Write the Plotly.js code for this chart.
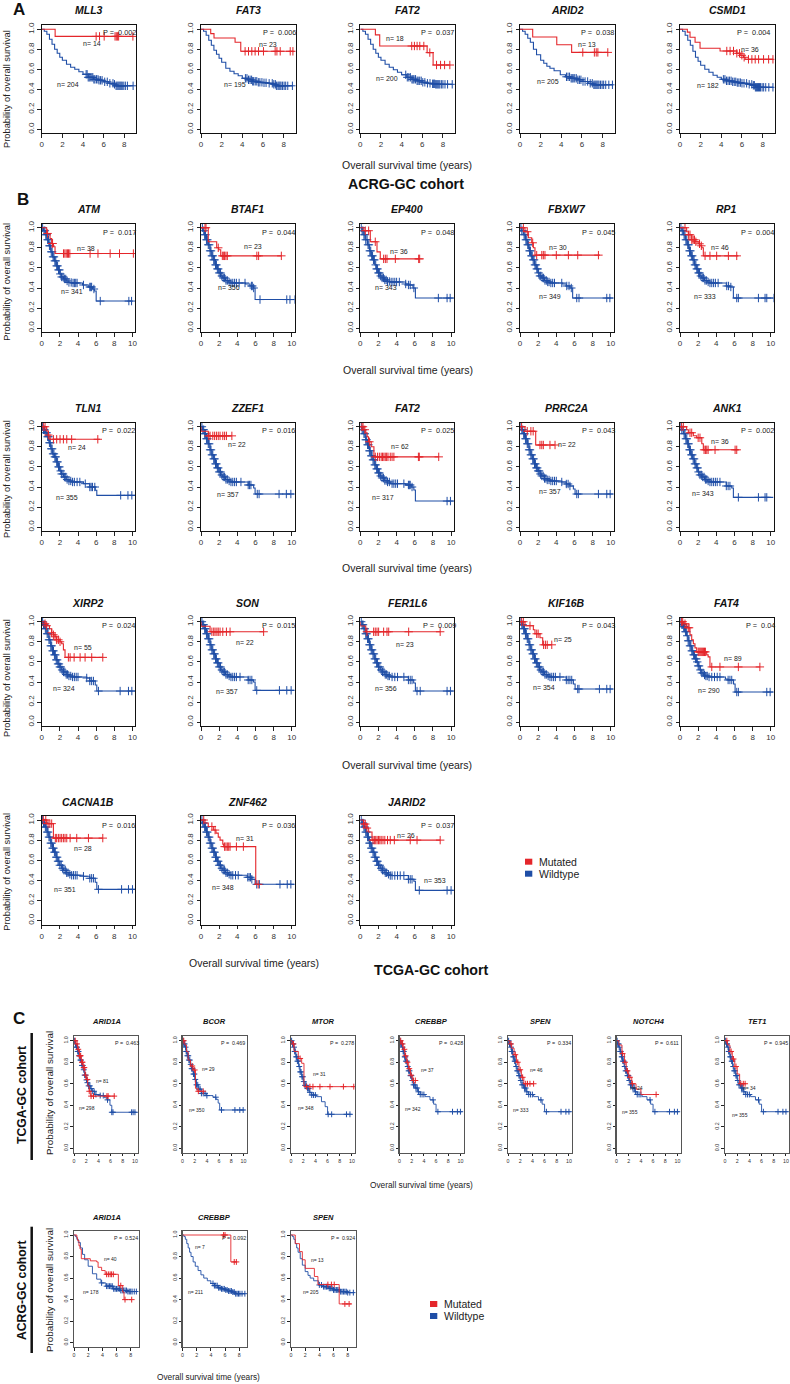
<!DOCTYPE html>
<html><head><meta charset="utf-8">
<script src="https://cdn.plot.ly/plotly-3.0.1.min.js"></script>
<style>html,body{margin:0;padding:0;background:#fff}#chart{width:790px;height:1384px}</style>
</head><body><div id="chart"></div>
<script>
// ---------------- DATA ----------------
// Panel A (ACRG-GC cohort)
const A_genes = ['MLL3','FAT3','FAT2','ARID2','CSMD1'];
const A_pvals = ['0.002','0.006','0.037','0.038','0.004'];
const A_nMut = [14,23,18,13,36];
const A_nWt = [204,195,200,205,182];

const A1_mt_t = [0,1.3,8.85];
const A1_mt_s = [1,0.929,0.929];
const A1_mt_c = [5.27,5.6,6.05,7.1,7.22,7.33,7.45,8.83];
const A1_wt_t = [0,0.25,0.5,0.75,1.0,1.25,1.5,1.75,2.0,2.4,2.8,3.2,3.6,4.0,4.5,5.0,5.5,6.0,6.5,7.0,7.2,8.85];
const A1_wt_s = [1,0.98,0.95,0.9,0.85,0.8,0.76,0.72,0.69,0.65,0.62,0.6,0.575,0.55,0.52,0.5,0.49,0.475,0.46,0.45,0.435,0.435];
const A1_wt_c = [4.3,4.4,4.5,4.6,4.7,4.85,4.95,5.05,5.15,5.3,5.45,5.55,5.7,5.85,6.1,6.35,6.6,6.9,7.05,7.2,7.3,7.4,7.5,7.6,7.7,7.8,7.95,8.1,8.3,8.85];

const A2_mt_t = [0,0.94,1.26,3.3,3.85,8.9];
const A2_mt_s = [1,0.957,0.913,0.87,0.78,0.78];
const A2_mt_c = [4.27,4.6,4.92,5.24,5.57,6.05,7.18,7.35,7.67,8.64,8.9];
const A2_wt_t = [0,0.25,0.5,0.75,1.0,1.25,1.5,1.75,2.0,2.4,2.8,3.2,3.6,4.0,4.5,5.0,5.5,6.0,6.5,7.0,7.3,8.85];
const A2_wt_s = [1,0.98,0.94,0.89,0.84,0.79,0.75,0.71,0.67,0.61,0.58,0.555,0.535,0.51,0.495,0.48,0.47,0.465,0.46,0.45,0.435,0.435];
const A2_wt_c = [4.3,4.45,4.6,4.75,4.9,5.0,5.1,5.25,5.4,5.55,5.7,5.9,6.1,6.3,6.6,6.9,7.05,7.2,7.3,7.45,7.55,7.65,7.75,7.9,8.05,8.2,8.4,8.85];

const A3_mt_t = [0,1.46,1.88,6.47,7.05,8.7];
const A3_mt_s = [1,0.944,0.833,0.767,0.643,0.643];
const A3_mt_c = [4.98,5.24,5.5,5.76,6.15,6.73,7.38,7.77,8.16,8.67];
const A3_wt_t = [0,0.25,0.5,0.75,1.0,1.25,1.5,1.75,2.0,2.4,2.8,3.2,3.6,4.0,4.5,5.0,5.5,6.0,6.5,7.0,7.3,8.9];
const A3_wt_s = [1,0.98,0.95,0.9,0.85,0.8,0.76,0.72,0.69,0.65,0.62,0.595,0.57,0.545,0.52,0.5,0.485,0.47,0.46,0.455,0.45,0.45];
const A3_wt_c = [4.4,4.55,4.7,4.85,5.0,5.1,5.2,5.35,5.5,5.6,5.75,5.9,6.05,6.25,6.5,6.75,7.0,7.1,7.2,7.3,7.4,7.5,7.6,7.7,7.85,8.0,8.2,8.45,8.9];

const A4_mt_t = [0,1.23,3.56,5.0,8.5];
const A4_mt_s = [1,0.923,0.846,0.769,0.769];
const A4_mt_c = [6.08,7.2,7.38,7.54,8.5];
const A4_wt_t = [0,0.25,0.5,0.75,1.0,1.3,1.6,2.0,2.3,2.6,2.9,3.3,3.9,4.4,4.9,5.5,6.1,6.6,7.1,8.95];
const A4_wt_s = [1,0.98,0.95,0.91,0.87,0.8,0.745,0.69,0.66,0.63,0.61,0.585,0.545,0.525,0.51,0.495,0.478,0.46,0.445,0.445];
const A4_wt_c = [4.5,4.65,4.8,4.95,5.05,5.15,5.3,5.45,5.6,5.75,5.9,6.1,6.3,6.55,6.8,7.0,7.15,7.25,7.35,7.45,7.55,7.65,7.8,7.95,8.1,8.3,8.6,8.95];

const A5_mt_t = [0,0.71,0.97,1.46,1.94,3.88,5.5,5.83,6.15,6.3,9.0];
const A5_mt_s = [1,0.972,0.92,0.87,0.81,0.783,0.76,0.74,0.72,0.7,0.7];
const A5_mt_c = [4.53,4.85,5.18,5.5,5.76,5.99,6.21,6.63,6.96,7.28,7.61,8.09,8.58,9.0];
const A5_wt_t = [0,0.25,0.5,0.75,1.0,1.25,1.5,1.75,2.0,2.4,2.8,3.2,3.6,4.0,4.5,5.0,5.5,6.0,6.5,7.0,7.3,9.0];
const A5_wt_s = [1,0.98,0.94,0.89,0.84,0.78,0.72,0.68,0.64,0.6,0.57,0.54,0.52,0.5,0.485,0.475,0.467,0.46,0.45,0.44,0.42,0.42];
const A5_wt_c = [4.2,4.35,4.5,4.65,4.8,4.95,5.1,5.25,5.4,5.55,5.7,5.85,6.0,6.2,6.45,6.7,6.95,7.1,7.2,7.3,7.4,7.5,7.6,7.7,7.8,7.95,8.1,8.3,8.6,9.0];

// Panel B (TCGA-GC cohort)
const B_genes = ['ATM','BTAF1','EP400','FBXW7','RP1','TLN1','ZZEF1','FAT2','PRRC2A','ANK1','XIRP2','SON','FER1L6','KIF16B','FAT4','CACNA1B','ZNF462','JARID2'];
const B_pvals = ['0.017','0.044','0.048','0.045','0.004','0.022','0.016','0.025','0.043','0.002','0.024','0.015','0.009','0.043','0.04','0.016','0.036','0.037'];
const B_nMut = [38,23,36,30,46,24,22,62,22,36,55,22,23,25,89,28,31,26];
const B_nWt = [341,356,343,349,333,355,357,317,357,343,324,357,356,354,290,351,348,353];

const B1_mt_t = [0,0.55,0.92,1.1,1.29,1.47,10.1];
const B1_mt_s = [1,0.943,0.893,0.843,0.81,0.743,0.743];
const B1_mt_c = [0.65,1.15,1.2,2.4,2.55,2.7,2.85,2.95,3.1,5.33,6.2,7.54,8.57,10.1];
const B1_wt_t = [0,0.2,0.4,0.6,0.8,1.0,1.2,1.4,1.6,1.8,2.0,2.2,2.4,2.7,3.0,3.3,4.1,4.5,5.2,5.6,5.8,6.0,9.9];
const B1_wt_s = [1,0.97,0.93,0.88,0.82,0.76,0.71,0.67,0.62,0.58,0.54,0.51,0.49,0.47,0.455,0.45,0.45,0.43,0.41,0.39,0.37,0.27,0.27];
const B1_wt_c = [0.1,0.25,0.35,0.45,0.55,0.65,0.75,0.85,0.95,1.05,1.15,1.25,1.35,1.45,1.55,1.65,1.75,1.85,1.95,2.05,2.2,2.35,2.5,2.65,2.8,3.0,3.25,3.45,3.6,3.75,3.9,4.6,5.3,5.4,5.5,5.75,6.45,9.6,9.9];

const B2_mt_t = [0,0.8,1.73,1.95,2.17,8.85];
const B2_mt_s = [1,0.86,0.8,0.78,0.72,0.72];
const B2_mt_c = [0.44,0.55,1.9,2.35,2.5,2.6,2.75,2.9,6.15,6.35,8.85];
const B2_wt_t = [0,0.2,0.4,0.6,0.8,1.0,1.2,1.4,1.6,1.8,2.0,2.2,2.4,2.7,3.0,3.3,4.3,4.9,5.4,5.8,5.96,10.3];
const B2_wt_s = [1,0.97,0.93,0.88,0.83,0.77,0.72,0.68,0.63,0.59,0.55,0.52,0.5,0.475,0.46,0.45,0.45,0.44,0.42,0.4,0.285,0.285];
const B2_wt_c = [0.15,0.3,0.4,0.5,0.6,0.7,0.8,0.9,1.0,1.1,1.2,1.3,1.4,1.5,1.6,1.7,1.8,1.9,2.0,2.15,2.3,2.45,2.6,2.75,2.9,3.1,3.3,3.5,3.7,3.9,4.2,4.85,5.55,5.65,5.8,6.5,9.45,9.8,10.3];

const B3_mt_t = [0,0.4,1.1,1.84,2.2,6.54];
const B3_mt_s = [1,0.97,0.86,0.76,0.69,0.69];
const B3_mt_c = [0.55,0.92,1.65,2.57,2.76,2.94,3.86,6.43,6.54];
const B3_wt_t = [0,0.2,0.4,0.6,0.8,1.0,1.2,1.4,1.6,1.8,2.0,2.2,2.4,2.7,3.0,3.3,4.4,5.0,5.3,5.8,6.07,10.3];
const B3_wt_s = [1,0.97,0.93,0.88,0.83,0.77,0.72,0.68,0.63,0.59,0.55,0.52,0.5,0.48,0.465,0.46,0.46,0.44,0.43,0.4,0.3,0.3];
const B3_wt_c = [0.1,0.2,0.3,0.4,0.5,0.6,0.75,0.85,0.95,1.05,1.15,1.25,1.35,1.45,1.55,1.7,1.8,1.9,2.0,2.1,2.25,2.4,2.55,2.7,2.85,3.0,3.2,3.4,3.6,3.8,4.0,4.3,5.0,5.3,5.5,5.9,8.6,9.56,9.9];

const B4_mt_t = [0,0.55,0.92,1.29,1.47,1.65,8.8];
const B4_mt_s = [1,0.96,0.9,0.85,0.8,0.727,0.727];
const B4_mt_c = [0.37,0.8,1.4,1.84,2.4,2.57,2.75,4.0,5.33,6.36,8.64];
const B4_wt_t = [0,0.2,0.4,0.6,0.8,1.0,1.2,1.4,1.6,1.8,2.0,2.2,2.4,2.7,3.0,3.3,4.4,4.7,5.1,5.5,5.8,10.3];
const B4_wt_s = [1,0.97,0.93,0.88,0.83,0.77,0.72,0.68,0.63,0.59,0.55,0.52,0.5,0.475,0.46,0.45,0.45,0.44,0.42,0.4,0.3,0.3];
const B4_wt_c = [0.1,0.2,0.35,0.45,0.55,0.65,0.75,0.85,0.95,1.05,1.15,1.25,1.35,1.45,1.55,1.65,1.75,1.85,1.95,2.05,2.2,2.3,2.45,2.6,2.75,2.9,3.05,3.2,3.4,3.6,3.8,4.6,5.15,5.4,5.65,6.25,6.5,9.56,9.9];

const B5_mt_t = [0,0.73,0.92,1.29,1.65,2.0,2.2,2.4,2.57,6.43];
const B5_mt_s = [1,0.96,0.93,0.88,0.86,0.84,0.82,0.8,0.72,0.72];
const B5_mt_c = [0.55,0.95,1.1,1.3,1.45,1.6,1.75,2.15,2.35,2.76,3.3,4.04,5.33,6.25];
const B5_wt_t = [0,0.2,0.4,0.6,0.8,1.0,1.2,1.4,1.6,1.8,2.0,2.2,2.4,2.7,3.0,3.3,4.4,5.1,5.5,5.88,10.3];
const B5_wt_s = [1,0.97,0.93,0.88,0.83,0.77,0.72,0.68,0.63,0.59,0.55,0.52,0.5,0.475,0.46,0.45,0.45,0.42,0.41,0.3,0.3];
const B5_wt_c = [0.1,0.25,0.35,0.45,0.55,0.65,0.75,0.85,0.95,1.05,1.15,1.25,1.35,1.45,1.55,1.65,1.75,1.85,1.95,2.05,2.15,2.3,2.45,2.6,2.75,2.9,3.1,3.3,3.5,3.7,3.9,4.2,5.15,5.35,5.6,6.25,6.43,8.64,9.37,9.56,10.3];

const B6_mt_t = [0,0.55,0.73,0.92,6.43];
const B6_mt_s = [1,0.958,0.917,0.875,0.875];
const B6_mt_c = [0.18,0.37,0.73,1.29,1.65,2.02,2.39,2.76,3.3,6.18];
const B6_wt_t = [0,0.2,0.4,0.6,0.8,1.0,1.2,1.4,1.6,1.8,2.0,2.2,2.4,2.7,3.0,3.3,4.2,4.6,5.3,5.9,6.07,10.3];
const B6_wt_s = [1,0.97,0.94,0.9,0.84,0.78,0.73,0.7,0.65,0.6,0.56,0.53,0.5,0.475,0.46,0.45,0.45,0.433,0.4,0.367,0.317,0.317];
const B6_wt_c = [0.1,0.2,0.3,0.45,0.55,0.65,0.75,0.85,0.95,1.05,1.15,1.25,1.35,1.45,1.55,1.65,1.75,1.85,1.95,2.1,2.2,2.35,2.5,2.65,2.8,3.0,3.2,3.4,3.6,3.9,4.2,4.8,5.3,5.45,5.6,5.85,8.7,9.5,9.93];

const B7_mt_t = [0,0,0.8,3.4];
const B7_mt_s = [1,0.955,0.909,0.909];
const B7_mt_c = [0.85,1.0,1.3,1.5,1.7,1.9,2.1,2.4,2.6,2.8,3.4];
const B7_wt_t = [0,0.2,0.4,0.6,0.8,1.0,1.2,1.4,1.6,1.8,2.0,2.2,2.4,2.7,3.0,3.3,4.3,5.2,5.8,5.96,10.3];
const B7_wt_s = [1,0.97,0.93,0.88,0.83,0.77,0.72,0.68,0.63,0.59,0.55,0.52,0.5,0.475,0.46,0.45,0.45,0.42,0.39,0.33,0.33];
const B7_wt_c = [0.1,0.2,0.3,0.4,0.5,0.6,0.7,0.8,0.9,1.0,1.1,1.2,1.3,1.4,1.5,1.6,1.7,1.8,1.9,2.0,2.15,2.3,2.45,2.6,2.75,2.9,3.1,3.3,3.5,3.7,3.9,4.4,5.2,5.35,5.5,6.2,6.4,8.6,9.4,9.9];

const B8_mt_t = [0,0.4,0.6,0.75,0.9,1.2,1.5,8.64];
const B8_mt_s = [1,0.97,0.94,0.9,0.85,0.8,0.7,0.7];
const B8_mt_c = [0.18,0.3,0.5,1.0,1.65,1.9,2.1,2.3,2.45,2.6,2.75,2.9,3.05,3.3,3.5,3.7,6.4,6.5,8.64];
const B8_wt_t = [0,0.2,0.4,0.6,0.8,1.0,1.2,1.4,1.6,1.8,2.0,2.2,2.4,2.7,3.0,3.3,4.4,5.0,5.6,5.9,6.07,10.3];
const B8_wt_s = [1,0.97,0.93,0.87,0.82,0.76,0.71,0.67,0.62,0.58,0.54,0.51,0.49,0.465,0.45,0.433,0.433,0.42,0.4,0.37,0.26,0.26];
const B8_wt_c = [0.1,0.2,0.3,0.4,0.5,0.6,0.7,0.8,0.9,1.0,1.1,1.2,1.3,1.4,1.5,1.6,1.7,1.8,1.9,2.0,2.1,2.25,2.4,2.55,2.7,2.85,3.0,3.2,3.5,3.7,3.9,4.1,4.8,5.3,5.4,5.5,5.7,9.56,9.93];

const B9_mt_t = [0,0.55,1.73,3.86];
const B9_mt_s = [1,0.955,0.818,0.818];
const B9_mt_c = [0.18,0.8,1.2,1.45,2.2,2.4,2.57,3.3,3.86];
const B9_wt_t = [0,0.2,0.4,0.6,0.8,1.0,1.2,1.4,1.6,1.8,2.0,2.2,2.4,2.7,3.0,3.3,4.2,4.6,5.1,5.5,5.88,6.07,10.3];
const B9_wt_s = [1,0.97,0.93,0.88,0.83,0.77,0.72,0.68,0.63,0.59,0.56,0.53,0.51,0.485,0.47,0.46,0.46,0.45,0.43,0.41,0.38,0.33,0.33];
const B9_wt_c = [0.1,0.2,0.3,0.4,0.5,0.6,0.7,0.8,0.9,1.0,1.1,1.2,1.3,1.4,1.5,1.6,1.7,1.8,1.9,2.0,2.1,2.25,2.4,2.55,2.7,2.85,3.0,3.2,3.4,3.6,3.8,4.0,4.6,5.1,5.3,5.5,6.25,6.43,8.64,9.56,9.93];

const B10_mt_t = [0,0.73,0.92,1.47,1.84,2.4,2.57,6.43];
const B10_mt_s = [1,0.97,0.94,0.91,0.89,0.83,0.77,0.77];
const B10_mt_c = [0.18,0.37,1.1,1.29,2.0,2.2,2.65,2.8,2.95,3.1,3.86,6.07,6.25];
const B10_wt_t = [0,0.2,0.4,0.6,0.8,1.0,1.2,1.4,1.6,1.8,2.0,2.2,2.4,2.7,3.0,3.3,4.4,5.1,5.7,5.88,10.3];
const B10_wt_s = [1,0.97,0.93,0.88,0.83,0.77,0.72,0.68,0.63,0.59,0.55,0.52,0.5,0.475,0.46,0.45,0.45,0.41,0.39,0.297,0.297];
const B10_wt_c = [0.1,0.2,0.35,0.45,0.55,0.65,0.75,0.85,0.95,1.05,1.15,1.25,1.35,1.45,1.55,1.65,1.75,1.85,1.95,2.05,2.2,2.35,2.5,2.65,2.8,2.95,3.1,3.3,3.5,3.7,3.9,4.1,4.4,5.1,5.3,5.5,6.43,8.64,9.37,9.56];

const B11_mt_t = [0,0.37,0.55,0.85,1.1,1.29,1.47,1.65,2.02,2.2,2.39,2.57,6.73];
const B11_mt_s = [1,0.98,0.96,0.93,0.89,0.87,0.85,0.82,0.8,0.78,0.72,0.645,0.645];
const B11_mt_c = [0.37,0.55,1.1,1.29,1.47,1.65,1.84,2.02,2.94,3.13,3.57,4.23,4.78,5.51,6.73];
const B11_wt_t = [0,0.2,0.4,0.6,0.8,1.0,1.2,1.4,1.6,1.8,2.0,2.2,2.4,2.7,3.0,3.3,4.0,4.96,5.3,5.9,6.07,10.3];
const B11_wt_s = [1,0.97,0.93,0.88,0.82,0.76,0.71,0.67,0.62,0.58,0.55,0.52,0.5,0.475,0.46,0.45,0.45,0.44,0.41,0.37,0.31,0.31];
const B11_wt_c = [0.1,0.2,0.3,0.4,0.5,0.6,0.7,0.8,0.9,1.0,1.1,1.2,1.3,1.4,1.5,1.6,1.7,1.8,1.9,2.0,2.1,2.25,2.4,2.55,2.7,2.85,3.0,3.2,3.4,3.6,3.8,4.0,4.96,5.3,5.5,5.7,6.25,8.64,9.56,9.93];

const B12_mt_t = [0,0,1.0,6.9];
const B12_mt_s = [1,0.955,0.9,0.9];
const B12_mt_c = [1.2,1.4,1.55,1.75,1.9,2.1,2.4,2.8,3.2,6.9];
const B12_wt_t = [0,0.2,0.4,0.6,0.8,1.0,1.2,1.4,1.6,1.8,2.0,2.2,2.4,2.7,3.0,3.3,4.3,5.2,5.77,5.96,10.3];
const B12_wt_s = [1,0.97,0.93,0.88,0.83,0.77,0.72,0.68,0.63,0.59,0.55,0.52,0.5,0.475,0.46,0.45,0.45,0.42,0.4,0.317,0.317];
const B12_wt_c = [0.1,0.2,0.3,0.4,0.5,0.6,0.7,0.8,0.9,1.0,1.1,1.2,1.3,1.4,1.5,1.6,1.7,1.8,1.9,2.0,2.15,2.3,2.45,2.6,2.75,2.9,3.1,3.3,3.5,3.7,3.9,4.3,5.2,5.4,5.6,6.14,8.64,9.45,9.93];

const B13_mt_t = [0,0,0.6,8.8];
const B13_mt_s = [1,0.957,0.9,0.9];
const B13_mt_c = [0.73,1.47,1.65,1.84,2.02,2.57,2.94,3.13,5.33,8.8];
const B13_wt_t = [0,0.2,0.4,0.6,0.8,1.0,1.2,1.4,1.6,1.8,2.0,2.2,2.4,2.7,3.0,3.3,4.8,5.3,5.88,6.07,10.3];
const B13_wt_s = [1,0.97,0.93,0.88,0.83,0.77,0.72,0.68,0.63,0.59,0.55,0.52,0.5,0.475,0.46,0.45,0.45,0.42,0.39,0.31,0.31];
const B13_wt_c = [0.1,0.2,0.3,0.4,0.5,0.6,0.7,0.8,0.9,1.0,1.1,1.2,1.3,1.4,1.5,1.6,1.7,1.8,1.9,2.0,2.15,2.3,2.45,2.6,2.75,2.9,3.05,3.2,3.5,3.8,4.1,4.8,5.3,5.5,5.7,6.25,6.6,9.56,9.93];

const B14_mt_t = [0,0.55,1.47,1.65,2.2,2.5,3.5];
const B14_mt_s = [1,0.96,0.92,0.88,0.84,0.77,0.77];
const B14_mt_c = [0.18,0.37,1.1,1.84,2.0,2.6,2.8,3.0,3.5];
const B14_wt_t = [0,0.2,0.4,0.6,0.8,1.0,1.2,1.4,1.6,1.8,2.0,2.2,2.4,2.7,3.0,3.3,4.4,5.1,5.88,6.07,10.3];
const B14_wt_s = [1,0.97,0.93,0.88,0.83,0.77,0.72,0.68,0.63,0.59,0.55,0.52,0.5,0.475,0.46,0.45,0.45,0.42,0.38,0.33,0.33];
const B14_wt_c = [0.1,0.2,0.3,0.4,0.5,0.6,0.7,0.8,0.9,1.0,1.1,1.2,1.3,1.4,1.5,1.6,1.7,1.8,1.9,2.0,2.15,2.3,2.45,2.6,2.75,2.9,3.1,3.3,3.5,3.7,3.9,4.4,5.1,5.3,5.5,5.7,6.36,6.5,8.75,9.56,9.93];

const B15_mt_t = [0,0.37,0.73,1.1,1.29,1.47,1.65,1.84,2.94,3.1,3.3,8.8];
const B15_mt_s = [1,0.98,0.94,0.87,0.82,0.78,0.74,0.7,0.67,0.65,0.55,0.55];
const B15_mt_c = [0.18,0.3,0.55,0.9,1.0,2.0,2.1,2.2,2.3,2.4,2.5,2.6,2.7,2.8,3.5,4.4,6.43,8.8];
const B15_wt_t = [0,0.2,0.37,0.55,0.73,0.9,1.1,1.3,1.47,1.65,1.84,2.0,2.2,2.4,2.57,2.8,3.1,4.4,5.0,5.3,5.9,6.07,10.3];
const B15_wt_s = [1,0.97,0.95,0.9,0.86,0.81,0.76,0.71,0.67,0.63,0.6,0.56,0.52,0.49,0.47,0.46,0.45,0.45,0.43,0.42,0.38,0.3,0.3];
const B15_wt_c = [0.1,0.2,0.3,0.4,0.5,0.6,0.7,0.8,0.9,1.0,1.1,1.2,1.3,1.4,1.5,1.6,1.7,1.8,1.9,2.0,2.1,2.25,2.4,2.55,2.7,2.85,3.0,3.2,3.5,3.8,4.1,4.4,5.3,5.5,5.7,6.25,6.43,9.56,9.93];

const B16_mt_t = [0,0.55,1.29,6.73];
const B16_mt_s = [1,0.964,0.82,0.82];
const B16_mt_c = [0.18,0.45,0.7,0.9,1.1,1.5,1.65,1.84,2.02,2.2,2.39,2.57,2.76,3.13,3.86,5.15,6.73];
const B16_wt_t = [0,0.2,0.4,0.6,0.8,1.0,1.2,1.4,1.6,1.8,2.0,2.2,2.4,2.7,3.0,3.3,4.0,4.6,5.3,5.9,6.07,10.3];
const B16_wt_s = [1,0.97,0.93,0.88,0.83,0.77,0.72,0.68,0.63,0.59,0.55,0.52,0.5,0.475,0.46,0.45,0.45,0.44,0.42,0.38,0.31,0.31];
const B16_wt_c = [0.1,0.2,0.3,0.4,0.5,0.6,0.7,0.8,0.9,1.0,1.1,1.2,1.3,1.4,1.5,1.6,1.7,1.8,1.9,2.0,2.15,2.3,2.45,2.6,2.75,2.9,3.1,3.3,3.5,3.7,3.9,4.6,5.3,5.5,5.7,6.25,8.8,9.56,10.0];

const B17_mt_t = [0,0.44,0.8,1.36,1.65,1.9,2.1,2.4,2.5,6.03,6.3];
const B17_mt_s = [1,0.97,0.935,0.9,0.87,0.83,0.8,0.76,0.735,0.36,0.36];
const B17_mt_c = [0.3,1.2,1.55,2.6,2.75,2.9,3.05,3.2,3.9,4.67,6.3];
const B17_wt_t = [0,0.2,0.4,0.6,0.8,1.0,1.2,1.4,1.6,1.8,2.0,2.2,2.4,2.7,3.0,3.3,4.1,5.1,5.6,5.96,10.3];
const B17_wt_s = [1,0.97,0.93,0.88,0.83,0.77,0.72,0.68,0.63,0.59,0.55,0.52,0.5,0.475,0.46,0.45,0.45,0.43,0.41,0.36,0.36];
const B17_wt_c = [0.1,0.2,0.3,0.4,0.5,0.6,0.7,0.8,0.9,1.0,1.1,1.2,1.3,1.4,1.5,1.6,1.7,1.8,1.9,2.0,2.15,2.3,2.45,2.6,2.75,2.9,3.1,3.3,3.5,3.8,4.1,5.15,5.3,5.45,5.6,6.14,6.43,8.7,9.5,9.9];

const B18_mt_t = [0,0.37,0.73,0.92,1.29,8.8];
const B18_mt_s = [1,0.96,0.92,0.88,0.8,0.8];
const B18_mt_c = [0.37,0.55,0.73,1.4,1.55,1.7,1.85,2.0,2.15,2.3,2.5,2.7,3.0,3.3,3.75,5.5,6.25,8.8];
const B18_wt_t = [0,0.2,0.4,0.6,0.8,1.0,1.2,1.4,1.6,1.8,2.0,2.2,2.4,2.7,3.0,3.3,4.8,5.3,5.9,6.07,10.3];
const B18_wt_s = [1,0.97,0.93,0.88,0.83,0.77,0.72,0.68,0.63,0.59,0.55,0.52,0.5,0.475,0.46,0.447,0.447,0.41,0.39,0.3,0.3];
const B18_wt_c = [0.1,0.2,0.3,0.4,0.5,0.6,0.7,0.8,0.9,1.0,1.1,1.2,1.3,1.4,1.5,1.6,1.7,1.8,1.9,2.0,2.15,2.3,2.45,2.6,2.75,2.9,3.1,3.3,3.5,3.8,4.1,4.4,4.8,5.3,5.5,5.7,6.5,9.56,10.0];

// Panel C, TCGA-GC cohort
const C_genes = ['ARID1A','BCOR','MTOR','CREBBP','SPEN','NOTCH4','TET1'];
const C_pvals = ['0.463','0.469','0.278','0.428','0.334','0.611','0.945'];
const C_nMut = [81,29,31,37,46,24,34];
const C_nWt = [298,350,348,342,333,355,355];

const C1_mt_t = [0,0.3,0.6,0.9,1.2,1.5,1.8,2.0,2.25,2.5,2.75,6.7];
const C1_mt_s = [1,0.97,0.92,0.86,0.8,0.75,0.68,0.64,0.58,0.53,0.485,0.485];
const C1_mt_c = [0.2,0.5,0.7,0.9,1.0,1.1,1.3,1.4,1.6,1.7,1.9,2.2,2.5,2.8,3.2,5.4,5.6,6.6];
const C1_wt_t = [0,0.2,0.4,0.6,0.8,1.0,1.25,1.5,1.75,2.0,2.2,2.4,2.65,2.9,3.4,4.3,5.0,5.4,5.9,6.2,10.3];
const C1_wt_s = [1,0.97,0.94,0.9,0.86,0.82,0.77,0.73,0.68,0.635,0.61,0.58,0.555,0.53,0.5,0.49,0.47,0.45,0.4,0.335,0.335];
const C1_wt_c = [0.1,0.25,0.4,0.5,0.6,0.75,0.85,0.95,1.05,1.15,1.3,1.45,1.6,1.75,1.9,2.05,2.2,2.4,2.6,2.8,3.0,3.3,3.6,4.3,4.8,5.5,6.2,6.4,9.45,9.7,10.0];

const C2_mt_t = [0,0.38,0.66,0.93,1.31,1.75,2.13,2.4,3.4];
const C2_mt_s = [1,0.96,0.9,0.82,0.765,0.728,0.557,0.53,0.53];
const C2_mt_c = [0.2,1.6,2.0,2.6,3.4];
const C2_wt_t = [0,0.2,0.4,0.6,0.8,1.0,1.25,1.5,1.75,2.0,2.3,2.6,3.1,3.9,5.0,5.5,5.85,6.1,10.2];
const C2_wt_s = [1,0.97,0.94,0.9,0.86,0.82,0.78,0.74,0.69,0.64,0.59,0.55,0.51,0.49,0.475,0.455,0.42,0.356,0.356];
const C2_wt_c = [0.1,0.2,0.35,0.5,0.6,0.7,0.8,0.95,1.05,1.2,1.35,1.5,1.65,1.8,1.95,2.1,2.3,2.5,2.7,2.9,3.1,3.4,3.7,4.0,5.46,6.4,8.6,9.4,9.95];

const C3_mt_t = [0,0.2,0.5,1.2,1.75,2.13,10.4];
const C3_mt_s = [1,0.97,0.9,0.835,0.79,0.573,0.573];
const C3_mt_c = [0.4,1.5,2.57,3.1,3.6,4.75,6.4,8.6,10.3];
const C3_wt_t = [0,0.2,0.4,0.6,0.8,1.0,1.25,1.5,1.75,2.0,2.3,2.6,3.0,3.4,4.2,5.0,5.6,6.0,9.95];
const C3_wt_s = [1,0.97,0.94,0.9,0.85,0.81,0.76,0.71,0.665,0.62,0.585,0.555,0.52,0.495,0.48,0.433,0.387,0.316,0.316];
const C3_wt_c = [0.1,0.25,0.35,0.5,0.6,0.7,0.85,0.95,1.05,1.2,1.35,1.5,1.65,1.8,1.95,2.1,2.3,2.5,2.7,2.9,3.1,3.4,3.7,4.0,6.1,6.67,9.1,9.67];

const C4_mt_t = [0,0.3,0.6,0.9,1.2,1.5,1.8,2.1,2.6];
const C4_mt_s = [1,0.97,0.92,0.86,0.8,0.74,0.68,0.63,0.63];
const C4_mt_c = [0.2,0.5,0.8,1.0,1.3,1.6,1.9,2.3,2.6];
const C4_wt_t = [0,0.2,0.4,0.6,0.8,1.0,1.25,1.5,1.75,2.0,2.3,2.6,3.0,3.4,4.2,5.0,5.6,6.0,10.3];
const C4_wt_s = [1,0.97,0.94,0.9,0.85,0.81,0.76,0.72,0.675,0.63,0.59,0.56,0.525,0.5,0.48,0.45,0.41,0.34,0.34];
const C4_wt_c = [0.1,0.2,0.35,0.5,0.6,0.7,0.85,0.95,1.05,1.2,1.35,1.5,1.65,1.8,1.95,2.1,2.3,2.5,2.7,2.9,3.1,3.4,3.7,4.0,5.5,6.3,8.7,9.5,10.0];

const C5_mt_t = [0,0.3,0.6,1.0,1.4,1.8,2.2,2.6,4.2];
const C5_mt_s = [1,0.97,0.93,0.87,0.8,0.73,0.66,0.6,0.6];
const C5_mt_c = [0.5,1.2,1.6,2.0,2.4,2.9,3.2,3.6,4.2];
const C5_wt_t = [0,0.2,0.4,0.6,0.8,1.0,1.25,1.5,1.75,2.0,2.3,2.6,3.0,3.4,4.2,5.0,5.6,6.0,10.3];
const C5_wt_s = [1,0.97,0.94,0.9,0.85,0.81,0.76,0.72,0.675,0.63,0.59,0.56,0.525,0.5,0.48,0.45,0.41,0.34,0.34];
const C5_wt_c = [0.1,0.25,0.35,0.5,0.6,0.75,0.85,0.95,1.1,1.2,1.35,1.5,1.65,1.8,1.95,2.1,2.3,2.5,2.7,2.9,3.1,3.4,3.7,4.0,5.4,6.3,8.7,9.5,10.0];

const C6_mt_t = [0,0.4,0.9,1.3,1.6,2.0,2.5,3.2,4.0,6.5];
const C6_mt_s = [1,0.96,0.88,0.8,0.72,0.66,0.6,0.55,0.5,0.5];
const C6_mt_c = [1.0,1.4,1.8,2.2,2.6,6.5];
const C6_wt_t = [0,0.2,0.4,0.6,0.8,1.0,1.25,1.5,1.75,2.0,2.3,2.6,3.0,3.4,4.2,5.0,5.6,6.0,10.3];
const C6_wt_s = [1,0.97,0.94,0.9,0.85,0.81,0.76,0.72,0.675,0.63,0.59,0.56,0.525,0.5,0.48,0.45,0.41,0.34,0.34];
const C6_wt_c = [0.1,0.2,0.35,0.45,0.6,0.7,0.85,0.95,1.05,1.2,1.35,1.5,1.65,1.8,1.95,2.1,2.3,2.5,2.7,2.9,3.1,3.4,3.7,4.0,5.5,6.3,8.7,9.5,10.0];

const C7_mt_t = [0,0.4,0.8,1.2,1.6,2.0,2.4,3.3];
const C7_mt_s = [1,0.96,0.9,0.83,0.76,0.69,0.6,0.6];
const C7_mt_c = [0.3,1.0,1.4,1.8,2.6,3.0,3.3];
const C7_wt_t = [0,0.2,0.4,0.6,0.8,1.0,1.25,1.5,1.75,2.0,2.3,2.6,3.0,3.4,4.2,5.0,5.6,6.0,10.3];
const C7_wt_s = [1,0.97,0.94,0.9,0.85,0.81,0.76,0.72,0.675,0.63,0.59,0.56,0.525,0.5,0.48,0.45,0.41,0.34,0.34];
const C7_wt_c = [0.1,0.25,0.35,0.5,0.6,0.7,0.85,0.95,1.1,1.2,1.35,1.5,1.65,1.8,1.95,2.1,2.3,2.5,2.7,2.9,3.1,3.4,3.7,4.0,5.5,6.3,8.7,9.5,10.0];

// Panel C, ACRG-GC cohort
const D_genes = ['ARID1A','CREBBP','SPEN'];
const D_pvals = ['0.524','0.092','0.924'];
const D_nMut = [40,7,13];
const D_nWt = [178,211,205];

const D1_mt_t = [0,0.4,0.5,0.7,0.85,1.03,2.3,3.2,3.4,3.9,4.4,6.26,6.87,7.06,8.14];
const D1_mt_s = [1,0.975,0.95,0.9,0.87,0.78,0.76,0.75,0.7,0.67,0.635,0.53,0.47,0.4,0.4];
const D1_mt_c = [4.6,4.85,5.1,5.3,5.55,6.6,7.2,8.14];
const D1_wt_t = [0,0.2,0.4,0.6,0.9,1.2,1.5,2.0,2.6,3.2,3.8,4.5,5.5,6.5,7.5,8.8];
const D1_wt_s = [1,0.985,0.96,0.93,0.88,0.82,0.77,0.71,0.64,0.59,0.555,0.525,0.5,0.485,0.475,0.475];
const D1_wt_c = [3.9,4.6,4.8,5.0,5.2,5.4,5.6,5.8,6.0,6.2,6.4,6.6,6.8,7.0,7.2,7.4,7.6,7.8,8.0,8.2,8.5,8.8];

const D2_mt_t = [0,6.82,7.6];
const D2_mt_s = [1,0.75,0.75];
const D2_mt_c = [5.8,6.0,7.3,7.6];
const D2_wt_t = [0,0.2,0.4,0.6,0.8,1.0,1.2,1.5,1.8,2.2,2.6,3.0,3.5,4.0,4.5,5.0,5.5,6.0,6.5,7.0,7.5,8.8];
const D2_wt_s = [1,0.985,0.96,0.92,0.88,0.84,0.8,0.75,0.71,0.67,0.63,0.6,0.575,0.55,0.53,0.51,0.5,0.49,0.48,0.47,0.455,0.455];
const D2_wt_c = [4.3,4.5,4.7,4.9,5.1,5.3,5.5,5.7,5.9,6.1,6.3,6.5,6.7,6.9,7.1,7.3,7.5,7.7,7.9,8.1,8.4,8.8];

const D3_mt_t = [0,0.6,1.2,1.6,2.0,3.3,3.8,6.8,8.5];
const D3_mt_s = [1,0.92,0.846,0.77,0.69,0.615,0.54,0.36,0.36];
const D3_mt_c = [5.2,5.7,6.1,7.6,8.2];
const D3_wt_t = [0,0.2,0.4,0.6,0.8,1.0,1.3,1.6,2.0,2.4,2.7,3.2,3.9,4.5,5.3,6.0,6.9,7.9,8.8];
const D3_wt_s = [1,0.985,0.96,0.92,0.88,0.84,0.78,0.72,0.66,0.625,0.6,0.575,0.536,0.52,0.505,0.49,0.474,0.465,0.465];
const D3_wt_c = [4.0,4.3,4.6,4.8,5.0,5.2,5.4,5.6,5.8,6.0,6.2,6.4,6.6,6.8,7.0,7.2,7.4,7.6,7.8,8.0,8.3,8.8];

// ---------------- LAYOUT POSITIONS (text label anchors, data coords) ----------------
const posA_P = [[7.55,0.97],[7.57,0.97],[7.52,0.97],[7.48,0.97],[7.14,0.97]];
const posA_M = [[4.88,0.86],[6.46,0.853],[3.4,0.913],[6.5,0.853],[6.75,0.8]];
const posA_W = [[2.5,0.45],[3.25,0.45],[2.57,0.51],[2.67,0.483],[2.67,0.436]];
const posB_Px = [8.53,8.5,8.47,8.6,8.5,8.42,8.5,8.47,8.6,8.5,8.42,8.5,8.7,8.6,8.83,8.42,8.5,8.55];
const posB_M = [[4.89,0.794],[5.68,0.81],[4.27,0.767],[4.14,0.804],[4.42,0.804],[3.84,0.79],[3.92,0.824],[4.38,0.807],[5.13,0.827],[4.42,0.85],[4.5,0.744],[4.85,0.794],[4.93,0.777],[4.69,0.827],[5.79,0.634],[4.5,0.72],[4.8,0.818],[5.04,0.85]];
const posB_W = [[3.29,0.37],[3.09,0.405],[2.84,0.405],[3.31,0.32],[2.76,0.317],[2.79,0.3],[2.98,0.324],[2.5,0.3],[3.31,0.36],[2.54,0.334],[2.46,0.34],[2.87,0.307],[2.88,0.34],[2.65,0.35],[3.2,0.317],[2.62,0.31],[2.42,0.33],[8.24,0.394]];
const posC_Px = [8.69,8.25,8.44,8.44,8.36,8.36,8.44];
const posC_M = [[4.6,0.625],[4.23,0.734],[4.6,0.688],[4.67,0.728],[4.75,0.728],[3.36,0.56],[4.1,0.56]];
const posC_W = [[2.2,0.375],[2.3,0.356],[2.46,0.372],[2.2,0.365],[2.13,0.356],[2.2,0.337],[2.46,0.31]];
const posD_Px = [7.35,7.3,7.27];
const posD_M = [[5.16,0.774],[2.44,0.89],[3.74,0.768]];
const posD_W = [[2.4,0.474],[1.88,0.47],[2.83,0.47]];

// ---------------- BUILD ----------------
const W = 790, H = 1384;
const FONT = 'Liberation Sans, Arial, Helvetica, sans-serif';
const RED = '#e4262b', BLUE = '#1f4ea6';
const colsAB = [41.7, 201, 360.3, 520, 680];

const curves = {
  A:[[A1_mt_t,A1_mt_s,A1_mt_c,A1_wt_t,A1_wt_s,A1_wt_c],[A2_mt_t,A2_mt_s,A2_mt_c,A2_wt_t,A2_wt_s,A2_wt_c],[A3_mt_t,A3_mt_s,A3_mt_c,A3_wt_t,A3_wt_s,A3_wt_c],[A4_mt_t,A4_mt_s,A4_mt_c,A4_wt_t,A4_wt_s,A4_wt_c],[A5_mt_t,A5_mt_s,A5_mt_c,A5_wt_t,A5_wt_s,A5_wt_c]],
  B:[[B1_mt_t,B1_mt_s,B1_mt_c,B1_wt_t,B1_wt_s,B1_wt_c],[B2_mt_t,B2_mt_s,B2_mt_c,B2_wt_t,B2_wt_s,B2_wt_c],[B3_mt_t,B3_mt_s,B3_mt_c,B3_wt_t,B3_wt_s,B3_wt_c],[B4_mt_t,B4_mt_s,B4_mt_c,B4_wt_t,B4_wt_s,B4_wt_c],[B5_mt_t,B5_mt_s,B5_mt_c,B5_wt_t,B5_wt_s,B5_wt_c],[B6_mt_t,B6_mt_s,B6_mt_c,B6_wt_t,B6_wt_s,B6_wt_c],[B7_mt_t,B7_mt_s,B7_mt_c,B7_wt_t,B7_wt_s,B7_wt_c],[B8_mt_t,B8_mt_s,B8_mt_c,B8_wt_t,B8_wt_s,B8_wt_c],[B9_mt_t,B9_mt_s,B9_mt_c,B9_wt_t,B9_wt_s,B9_wt_c],[B10_mt_t,B10_mt_s,B10_mt_c,B10_wt_t,B10_wt_s,B10_wt_c],[B11_mt_t,B11_mt_s,B11_mt_c,B11_wt_t,B11_wt_s,B11_wt_c],[B12_mt_t,B12_mt_s,B12_mt_c,B12_wt_t,B12_wt_s,B12_wt_c],[B13_mt_t,B13_mt_s,B13_mt_c,B13_wt_t,B13_wt_s,B13_wt_c],[B14_mt_t,B14_mt_s,B14_mt_c,B14_wt_t,B14_wt_s,B14_wt_c],[B15_mt_t,B15_mt_s,B15_mt_c,B15_wt_t,B15_wt_s,B15_wt_c],[B16_mt_t,B16_mt_s,B16_mt_c,B16_wt_t,B16_wt_s,B16_wt_c],[B17_mt_t,B17_mt_s,B17_mt_c,B17_wt_t,B17_wt_s,B17_wt_c],[B18_mt_t,B18_mt_s,B18_mt_c,B18_wt_t,B18_wt_s,B18_wt_c]],
  C:[[C1_mt_t,C1_mt_s,C1_mt_c,C1_wt_t,C1_wt_s,C1_wt_c],[C2_mt_t,C2_mt_s,C2_mt_c,C2_wt_t,C2_wt_s,C2_wt_c],[C3_mt_t,C3_mt_s,C3_mt_c,C3_wt_t,C3_wt_s,C3_wt_c],[C4_mt_t,C4_mt_s,C4_mt_c,C4_wt_t,C4_wt_s,C4_wt_c],[C5_mt_t,C5_mt_s,C5_mt_c,C5_wt_t,C5_wt_s,C5_wt_c],[C6_mt_t,C6_mt_s,C6_mt_c,C6_wt_t,C6_wt_s,C6_wt_c],[C7_mt_t,C7_mt_s,C7_mt_c,C7_wt_t,C7_wt_s,C7_wt_c]],
  D:[[D1_mt_t,D1_mt_s,D1_mt_c,D1_wt_t,D1_wt_s,D1_wt_c],[D2_mt_t,D2_mt_s,D2_mt_c,D2_wt_t,D2_wt_s,D2_wt_c],[D3_mt_t,D3_mt_s,D3_mt_c,D3_wt_t,D3_wt_s,D3_wt_c]]
};

const styleAB = {tf:8, ts:10.5, lab:7, ms:6, lw:1.1, lc:'#111', llw:1, tl:3.5};
const styleCD = {tf:5.3, ts:7.5, lab:5, ms:4.2, lw:0.9, lc:'#555', llw:1.2, tl:2.5};

const plots = [];
A_genes.forEach((g,i)=>plots.push({g, p:A_pvals[i], nm:A_nMut[i], nw:A_nWt[i], cv:curves.A[i],
  left:colsAB[i], top:25.3, w:94.5, h:108, xmax:9.15, xt:[0,2,4,6,8], ty:10,
  pP:posA_P[i], pM:posA_M[i], pW:posA_W[i], st:styleAB}));
const rowTopsB = [223.7, 422.7, 617.7, 816];
const rowTitleB = [209, 408.3, 603.3, 801.7];
B_genes.forEach((g,i)=>{const r=Math.floor(i/5), c=i%5; plots.push({g, p:B_pvals[i], nm:B_nMut[i], nw:B_nWt[i], cv:curves.B[i],
  left:colsAB[c], top:rowTopsB[r], w:93.5, h:108.5, xmax:10.3, xt:[0,2,4,6,8,10], ty:rowTitleB[r],
  pP:[posB_Px[i], r===0?0.95:(r===3?0.95:0.96)], pM:posB_M[i], pW:posB_W[i], st:styleAB});});
C_genes.forEach((g,i)=>plots.push({g, p:C_pvals[i], nm:C_nMut[i], nw:C_nWt[i], cv:curves.C[i],
  left:74+108.5*i, top:1036.4, w:64, h:116.2, xmax:10.5, xt:[0,2,4,6,8,10], ty:1021.7,
  pP:[posC_Px[i],0.98], pM:posC_M[i], pW:posC_W[i], st:styleCD}));
D_genes.forEach((g,i)=>plots.push({g, p:D_pvals[i], nm:D_nMut[i], nw:D_nWt[i], cv:curves.D[i],
  left:74+108.5*i, top:1230.7, w:64.5, h:116.3, xmax:9.1, xt:[0,2,4,6,8], ty:1217.7,
  pP:[posD_Px[i],0.975], pM:posD_M[i], pW:posD_W[i], st:styleCD}));

function stepAt(t, s, x){ let v = s[0]; for(let i=0;i<t.length;i++){ if(t[i] <= x + 1e-9) v = s[i]; else break; } return v; }

const traces = [], annotations = [], shapes = [];
const layout = {width:W, height:H, margin:{l:0,r:0,t:0,b:0}, paper_bgcolor:'#fff', plot_bgcolor:'#fff',
  showlegend:false, font:{family:FONT, color:'#222'}};

plots.forEach((pl,idx)=>{
  const k = idx+1, sfx = k===1?'':String(k), st = pl.st;
  const axCommon = {ticks:'outside', ticklen:st.tl, tickwidth:1, tickcolor:'#222', showline:true, mirror:true,
    linecolor:st.lc, linewidth:st.llw, showgrid:false, zeroline:false, fixedrange:true,
    tickfont:{family:FONT, size:st.tf, color:'#333'}};
  layout['xaxis'+sfx] = Object.assign({}, axCommon, {domain:[pl.left/W,(pl.left+pl.w)/W], anchor:'y'+sfx,
    range:[0,pl.xmax], tickmode:'array', tickvals:pl.xt, ticktext:pl.xt.map(String)});
  layout['yaxis'+sfx] = Object.assign({}, axCommon, {domain:[1-(pl.top+pl.h)/H, 1-pl.top/H], anchor:'x'+sfx,
    range:[-0.04,1.04], tickmode:'array', tickvals:[0,0.2,0.4,0.6,0.8,1], ticktext:['0.0','0.2','0.4','0.6','0.8','1.0'], tickangle:-90});
  const [mt_t, mt_s, mt_c, wt_t, wt_s, wt_c] = pl.cv;
  const xa = 'x'+sfx, ya = 'y'+sfx;
  traces.push({type:'scatter', mode:'lines', x:wt_t, y:wt_s, xaxis:xa, yaxis:ya, line:{shape:'hv', color:BLUE, width:st.lw}, hoverinfo:'skip'});
  traces.push({type:'scatter', mode:'markers', x:wt_c, y:wt_c.map(c=>stepAt(wt_t,wt_s,c)), xaxis:xa, yaxis:ya,
    marker:{symbol:'cross-thin', size:st.ms, color:BLUE, line:{width:1, color:BLUE}}, hoverinfo:'skip'});
  traces.push({type:'scatter', mode:'lines', x:mt_t, y:mt_s, xaxis:xa, yaxis:ya, line:{shape:'hv', color:RED, width:st.lw}, hoverinfo:'skip'});
  traces.push({type:'scatter', mode:'markers', x:mt_c, y:mt_c.map(c=>stepAt(mt_t,mt_s,c)), xaxis:xa, yaxis:ya,
    marker:{symbol:'cross-thin', size:st.ms, color:RED, line:{width:1, color:RED}}, hoverinfo:'skip'});
  annotations.push({xref:'paper', yref:'paper', x:(pl.left+pl.w/2)/W, y:1-pl.ty/H, xanchor:'center', yanchor:'middle',
    text:'<b><i>'+pl.g+'</i></b>', showarrow:false, font:{family:FONT, size:st.ts, color:'#111'}});
  annotations.push({xref:xa, yref:ya, x:pl.pP[0], y:pl.pP[1], text:'P = \u00a0'+pl.p, showarrow:false,
    xanchor:'center', yanchor:'middle', font:{family:FONT, size:st.lab+0.3, color:'#222'}});
  annotations.push({xref:xa, yref:ya, x:pl.pM[0], y:pl.pM[1], text:'n= '+pl.nm, showarrow:false,
    xanchor:'center', yanchor:'middle', font:{family:FONT, size:st.lab, color:'#222'}});
  annotations.push({xref:xa, yref:ya, x:pl.pW[0], y:pl.pW[1], text:'n= '+pl.nw, showarrow:false,
    xanchor:'center', yanchor:'middle', font:{family:FONT, size:st.lab, color:'#222'}});
});

function pa(text, x, y, size, opts){ annotations.push(Object.assign({xref:'paper', yref:'paper', x:x/W, y:1-y/H,
  text, showarrow:false, xanchor:'center', yanchor:'middle', font:{family:FONT, size, color:'#111'}}, opts||{})); }

// panel letters
pa('<b>A</b>', 19, 9, 17); pa('<b>B</b>', 22.5, 199, 17); pa('<b>C</b>', 19, 1019, 17);
// y titles
const yTitle = 'Probability of overall survival';
[[7,89],[7,281.7],[7,479],[7,678],[7,871.7]].forEach(p=>pa(yTitle, p[0], p[1], 9.3, {textangle:-90, font:{family:FONT,size:9.3,color:'#222'}}));
[[49,1093],[49,1290]].forEach(p=>pa(yTitle, p[0], p[1], 9.8, {textangle:-90, font:{family:FONT,size:9.8,color:'#222'}}));
// x titles
const xTitle = 'Overall survival time (years)';
[[407,165],[408,370],[407,568.3],[407,765],[254.4,963.3]].forEach(p=>pa(xTitle, p[0], p[1], 10.5, {font:{family:FONT,size:10.5,color:'#222'}}));
[[422,1185],[208.5,1376.7]].forEach(p=>pa(xTitle, p[0], p[1], 8.3, {font:{family:FONT,size:8.3,color:'#222'}}));
// cohort labels
pa('<b>ACRG-GC cohort</b>', 406, 184, 14.2);
pa('<b>TCGA-GC cohort</b>', 431, 970, 14.2);
pa('<b>TCGA-GC cohort</b>', 22, 1095, 12.2, {textangle:-90});
pa('<b>ACRG-GC cohort</b>', 22, 1290, 12.2, {textangle:-90});
// vertical bars in panel C
[[1033,1160],[1226.7,1353]].forEach(r=>shapes.push({type:'line', xref:'paper', yref:'paper', x0:31.7/W, x1:31.7/W,
  y0:1-r[0]/H, y1:1-r[1]/H, line:{color:'#111', width:2.5}}));
// legends
const legLabels = ['Mutated','Wildtype'], legColors = [RED, BLUE];
[[525,861.7,12],[430,1304,12]].forEach(L=>{
  legLabels.forEach((lab,j)=>{
    const cy = L[1] + j*L[2];
    shapes.push({type:'rect', xref:'paper', yref:'paper', x0:L[0]/W, x1:(L[0]+7.3)/W, y0:1-(cy+3)/H, y1:1-(cy-3)/H,
      fillcolor:legColors[j], line:{width:0}});
    pa(lab, L[0]+11.5, cy, 10.5, {xanchor:'left', font:{family:FONT,size:10.5,color:'#222'}});
  });
});
layout.annotations = annotations;
layout.shapes = shapes;

Plotly.newPlot('chart', traces, layout, {displayModeBar:false, staticPlot:true});
</script></body></html>
